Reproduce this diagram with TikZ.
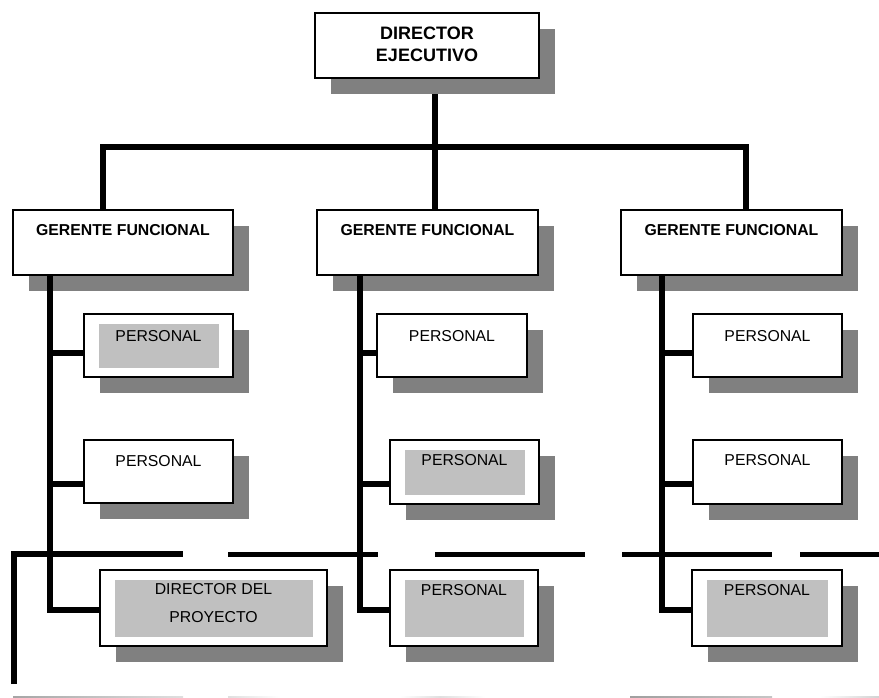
\documentclass[tikz,border=0pt]{standalone}
\usepackage{fontspec}
\setmainfont{Liberation Sans}
\usetikzlibrary{shadows,calc,backgrounds}
\definecolor{shadowgray}{HTML}{808080}
\definecolor{innergray}{HTML}{C0C0C0}
\tikzset{
  card/.style={draw=black, line width=1.6pt, fill=white, inner sep=0pt, outer sep=0pt,
    drop shadow={shadow xshift=16pt, shadow yshift=-16pt, fill=shadowgray, opacity=1, draw=none}},
  bus/.style={line width=6pt, line cap=butt, line join=miter},
  rule/.style={line width=5pt, line cap=butt, line join=miter},
  lbl/.style={anchor=base, inner sep=0pt, font=\fontsize{15.8}{19}\selectfont},
  boldlbl/.style={anchor=base, inner sep=0pt, font=\fontsize{15.8}{19}\selectfont\bfseries},
  headlbl/.style={anchor=center, inner sep=0pt, align=center, font=\fontsize{18}{22}\selectfont\bfseries},
  twolbl/.style={anchor=center, inner sep=0pt, align=center, font=\fontsize{15.8}{28}\selectfont},
}
% card with its top-left and bottom-right corners given in pixels
\newcommand\placecard[5]{%
  \pgfmathsetmacro\cardw{#4-#2}%
  \pgfmathsetmacro\cardh{#5-#3}%
  \node[card, minimum width=\cardw pt, minimum height=\cardh pt] (#1) at ({(#2+#4)/2},{(#3+#5)/2}) {};}
% silver panel inside a card
\newcommand\innershade[1]{%
  \fill[innergray] ($(#1.north west)+(15,10)$) rectangle ($(#1.south east)+(-14,-9)$);}
\begin{document}
\begin{tikzpicture}[x=1pt,y=-1pt]
\useasboundingbox (0,0) rectangle (879,698);

% cards
\placecard{dir}{315}{13}{539}{78}
\placecard{g1}{13}{210}{233}{275}
\placecard{g2}{317}{210}{538}{275}
\placecard{g3}{621}{210}{842}{275}

\placecard{p11}{84}{314}{233}{377}
\placecard{p12}{84}{440}{233}{503}
\placecard{p13}{100}{570}{327}{646}
\placecard{p21}{377}{314}{527}{377}
\placecard{p22}{390}{440}{539}{504}
\placecard{p23}{390}{570}{538}{646}
\placecard{p31}{693}{314}{842}{377}
\placecard{p32}{693}{440}{842}{504}
\placecard{p33}{692}{570}{842}{646}

\innershade{p11}
\innershade{p13}
\innershade{p22}
\innershade{p23}
\innershade{p33}

% labels
\node[headlbl] (tdir) at ($(dir.center)+(0,-1)$) {DIRECTOR\\EJECUTIVO};
\node[boldlbl] (tg1) at ($(g1.north)+(0,26)$) {GERENTE FUNCIONAL};
\node[boldlbl] (tg2) at ($(g2.north)+(0,26)$) {GERENTE FUNCIONAL};
\node[boldlbl] (tg3) at ($(g3.north)+(0,26)$) {GERENTE FUNCIONAL};

\node[lbl] (t11) at ($(p11.north)+(0,27)$) {PERSONAL};
\node[lbl] (t12) at ($(p12.north)+(0,26)$) {PERSONAL};
\node[twolbl] (t13) at ($(p13.center)+(0,-5)$) {DIRECTOR DEL\\PROYECTO};
\node[lbl] (t21) at ($(p21.north)+(0,27)$) {PERSONAL};
\node[lbl] (t22) at ($(p22.north)+(0,25)$) {PERSONAL};
\node[lbl] (t23) at ($(p23.north)+(0,25)$) {PERSONAL};
\node[lbl] (t31) at ($(p31.north)+(0,27)$) {PERSONAL};
\node[lbl] (t32) at ($(p32.north)+(0,25)$) {PERSONAL};
\node[lbl] (t33) at ($(p33.north)+(0,25)$) {PERSONAL};

% top bus: trunk from the director down to the three managers
\coordinate (trunk) at (435,147);
\coordinate (busL) at (103,147);
\coordinate (busR) at (746,147);
\begin{scope}[on background layer]
  \draw[bus] (trunk |- dir.south) -- (trunk);
\end{scope}
\draw[bus] (busL |- g1.north) -- (busL) -- (busR) -- (busR |- g3.north);
\draw[bus] (trunk) -- (trunk |- g2.north);

% stems and branches of each column
\coordinate (s1) at (50,0);
\coordinate (s2) at (360,0);
\coordinate (s3) at (662,0);
\coordinate (r1) at (0,353);
\coordinate (r2) at (0,484);
\coordinate (r3) at (0,610);

\draw[bus] (s1 |- g1.south) |- (p13.west |- r3);
\draw[bus] (s1 |- r1) -- (p11.west |- r1);
\draw[bus] (s1 |- r2) -- (p12.west |- r2);

\draw[bus] (s2 |- g2.south) |- (p23.west |- r3);
\draw[bus] (s2 |- r1) -- (p21.west |- r1);
\draw[bus] (s2 |- r2) -- (p22.west |- r2);

\draw[bus] (s3 |- g3.south) |- (p33.west |- r3);
\draw[bus] (s3 |- r1) -- (p31.west |- r1);
\draw[bus] (s3 |- r2) -- (p32.west |- r2);

% broken horizontal rule with its left drop
\draw[rule, line width=5.5pt] (14,684) |- (183,554);
\draw[rule] (228,554) -- (378,554);
\draw[rule] (435,554) -- (585,554);
\draw[rule] (622,554) -- (772,554);
\draw[rule] (800,554) -- (879,554);

% faint rule cut by the lower edge
\shade[left color=gray!70, right color=gray!25] (13,696.5) rectangle (183,698);
\shade[left color=gray!25, right color=white] (228,696.5) rectangle (280,698);
\shade[left color=white, right color=gray!25] (400,696.5) rectangle (440,698);
\shade[left color=gray!25, right color=white] (440,696.5) rectangle (485,698);
\shade[left color=gray!75, right color=gray!45] (630,696.5) rectangle (772,698);
\shade[left color=white, right color=gray!35] (820,696.5) rectangle (879,698);
\end{tikzpicture}
\end{document}
